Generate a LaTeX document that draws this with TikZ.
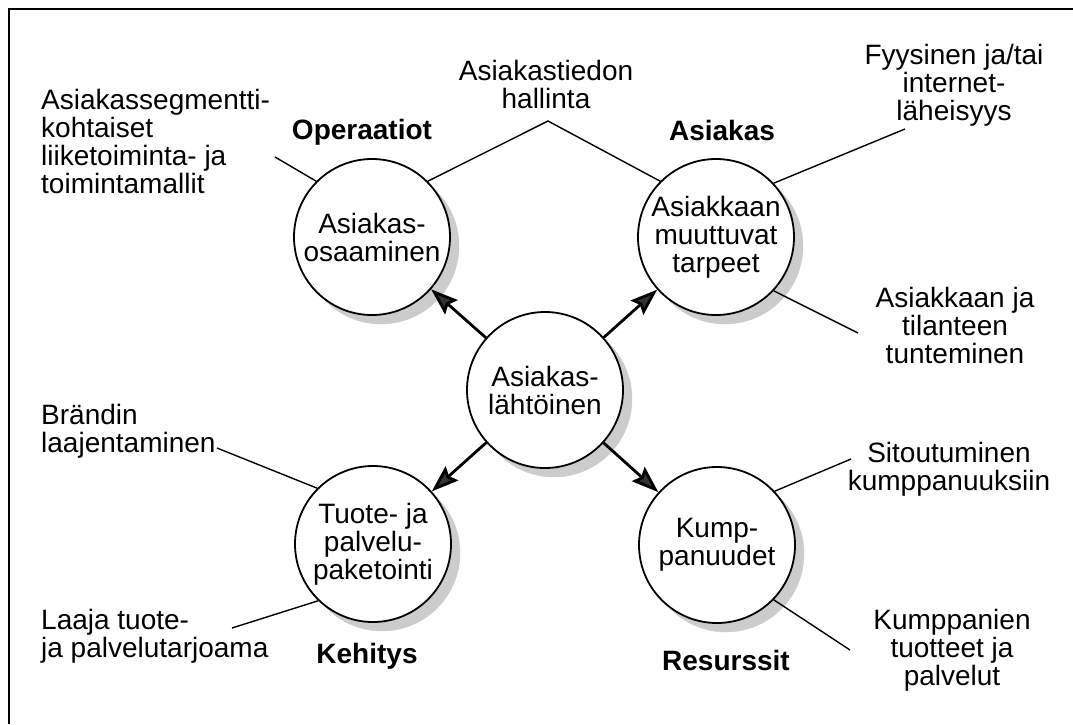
\documentclass[tikz,border=0pt]{standalone}
\usepackage{fontspec}
\setmainfont{Liberation Sans}
\usetikzlibrary{arrows.meta}
\begin{document}
\begin{tikzpicture}[x=1pt,y=-1pt,
  every node/.style={font=\fontsize{28}{28}\selectfont, inner sep=0pt},
  bubble/.style={circle, draw, line width=1.8pt, fill=white, minimum size=156pt, align=center},
  shadowdisc/.style={circle, fill=black!20, draw=black!20, minimum size=156pt},
  link/.style={line width=1.4pt},
  push/.style={line width=2.8pt, -{Stealth[length=27pt,width=19pt,inset=4pt,fill=black!80]}},
  heading/.style={font=\fontsize{28}{28}\selectfont\bfseries, anchor=base},
  note/.style={align=left, anchor=base west},
  cnote/.style={align=center, anchor=base},
  frame/.style={line width=2pt}
]
\useasboundingbox (0,0) rectangle (1073,724);
\draw[frame] (1073,9) -- (9,9) -- (9,724);

% circles with their offset shadows
\node[shadowdisc] (tls) at (381,246) {};
\node[bubble] (tl) at (372,237) {Asiakas-\\osaaminen};
\node[shadowdisc] (trs) at (725,246) {};
\node[bubble] (tr) at (716,237) {Asiakkaan\\muuttuvat\\tarpeet};
\node[shadowdisc] (bls) at (382,553) {};
\node[bubble] (bl) at (373,544) {Tuote- ja\\palvelu-\\paketointi};
\node[shadowdisc] (brs) at (726,554) {};
\node[bubble] (br) at (717,545) {Kump-\\panuudet};
\node[shadowdisc] (cs) at (554,399) {};
\node[bubble] (c)  at (545,390) {Asiakas-\\lähtöinen};

% labels (anchor = baseline of last line)
\node[note] (seg) at (41,193) {Asiakassegmentti-\\kohtaiset\\liiketoiminta- ja\\toimintamallit};
\node[heading] (oper) at (362,139) {Operaatiot};
\node[cnote] (tieto) at (546,108) {Asiakastiedon\\hallinta};
\node[heading] (asiakas) at (722,140) {Asiakas};
\node[cnote] (fyys) at (954,120) {Fyysinen ja/tai\\internet-\\läheisyys};
\node[cnote] (tunt) at (955,363) {Asiakkaan ja\\tilanteen\\tunteminen};
\node[note] (brand) at (41,452) {Brändin\\laajentaminen};
\node[note] (laaja) at (41,657) {Laaja tuote-\\ja palvelutarjoama};
\node[heading] (keh) at (367,663) {Kehitys};
\node[heading] (res) at (726,670) {Resurssit};
\node[cnote] (sit) at (949,490) {Sitoutuminen\\kumppanuuksiin};
\node[cnote] (kump) at (952,685) {Kumppanien\\tuotteet ja\\palvelut};

% free ends of connectors
\coordinate (segend) at (275,157);
\coordinate (tietotop) at (548,121);
\coordinate (fyysend) at (905,129);
\coordinate (tuntend) at (858,333);
\coordinate (brandend) at (217,448);
\coordinate (laajaend) at (232,628);
\coordinate (sitend) at (851,459);
\coordinate (kumpend) at (850,650);

\draw[link] (segend) -- (tl.135);
\draw[link] (tl.45) -- (tietotop) -- (tr.135);
\draw[link] (fyysend) -- (tr.43);
\draw[link] (tuntend) -- (tr.-43);
\draw[link] (brandend) -- (bl.135);
\draw[link] (laajaend) -- (bl.-134);
\draw[link] (sitend) -- (br.43);
\draw[link] (kumpend) -- (br.-44);

% arrows
\draw[push] (c) -- (tl);
\draw[push] (c) -- (tr);
\draw[push] (c) -- (bl);
\draw[push] (c) -- (br);
\end{tikzpicture}
\end{document}
